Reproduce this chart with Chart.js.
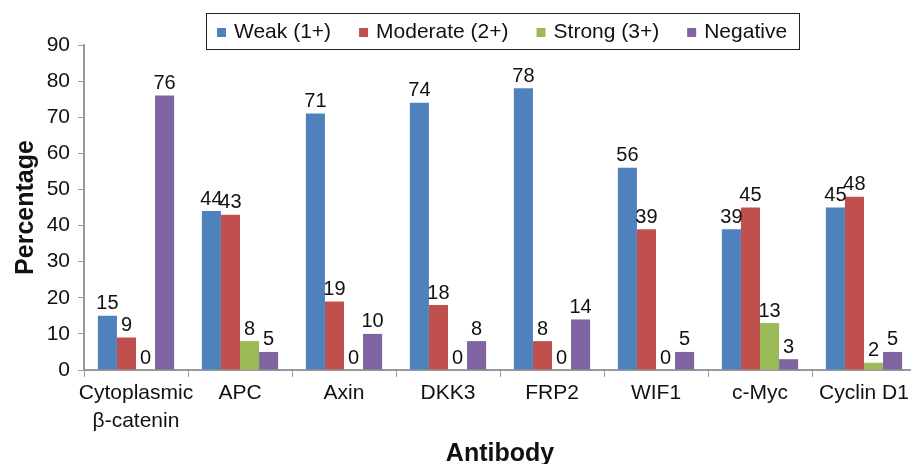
<!DOCTYPE html>
<html lang="en">
<head>
  <meta charset="UTF-8">
  <title>Antibody staining</title>
  <script src="https://cdn.jsdelivr.net/npm/chart.js"></script>
  <style>
    html, body { margin: 0; padding: 0; background: #fff; overflow: hidden; }
    #wrap { width: 911px; height: 464px; overflow: hidden; }
  </style>
</head>
<body>
<div id="wrap"><canvas id="grafik" width="921" height="464"></canvas></div>
<script>
  const categories = [['Cytoplasmic', 'β-catenin'], 'APC', 'Axin', 'DKK3', 'FRP2', 'WIF1', 'c-Myc', 'Cyclin D1'];
  const weak = [15, 44, 71, 74, 78, 56, 39, 45];
  const moderate = [9, 43, 19, 18, 8, 39, 45, 48];
  const strong = [0, 8, 0, 0, 0, 0, 13, 2];
  const negative = [76, 5, 10, 8, 14, 5, 3, 5];
  const yTicks = [0, 10, 20, 30, 40, 50, 60, 70, 80, 90];

  const fontName = "'Liberation Sans', Arial, sans-serif";

  // angka di atas tiap batang
  const labelAtas = {
    id: 'labelAtas',
    afterDatasetsDraw(chart) {
      const ctx = chart.ctx;
      ctx.save();
      ctx.font = '20px ' + fontName;
      ctx.fillStyle = '#111';
      ctx.textAlign = 'center';
      ctx.textBaseline = 'bottom';
      chart.data.datasets.forEach((ds, i) => {
        chart.getDatasetMeta(i).data.forEach((bar, j) => {
          ctx.fillText(ds.data[j], bar.x, bar.y - 2);
        });
      });
      ctx.restore();
    }
  };

  // legend digambar sendiri, dengan kotak di sekelilingnya
  const legendKotak = {
    id: 'legendKotak',
    afterDraw(chart) {
      const ctx = chart.ctx;
      ctx.save();
      ctx.font = '21px ' + fontName;
      ctx.textBaseline = 'middle';
      const left = 206, top = 13, bottom = 49;
      const midY = 32;
      const padKiri = 11, padKanan = 12, jarak = 28, geser = 17;
      let x = left + padKiri;
      chart.data.datasets.forEach((d, i) => {
        const w = ctx.measureText(d.label).width;
        if (i > 0) x += jarak;
        ctx.fillStyle = d.backgroundColor;
        ctx.fillRect(x, midY - 4, 9, 9);
        ctx.fillStyle = '#111';
        ctx.fillText(d.label, x + geser, midY);
        x += geser + w;
      });
      const right = x + padKanan;
      ctx.strokeStyle = '#222';
      ctx.lineWidth = 1;
      ctx.strokeRect(left + 0.5, top + 0.5, Math.round(right - left), bottom - top);
      ctx.restore();
    }
  };

  new Chart(document.getElementById('grafik'), {
    type: 'bar',
    data: {
      labels: categories,
      datasets: [
        { label: 'Weak (1+)', data: weak, backgroundColor: '#4F81BD' },
        { label: 'Moderate (2+)', data: moderate, backgroundColor: '#C0504D' },
        { label: 'Strong (3+)', data: strong, backgroundColor: '#9BBB59' },
        { label: 'Negative', data: negative, backgroundColor: '#8064A2' }
      ]
    },
    options: {
      responsive: false,
      animation: false,
      categoryPercentage: 0.733,
      barPercentage: 1.0,
      layout: { padding: { left: 0, right: 5, top: 45, bottom: 0 } },
      plugins: {
        legend: { display: false },
        tooltip: { enabled: false }
      },
      scales: {
        x: {
          afterFit(axis) { axis.height = 94; },
          grid: { offset: true, drawOnChartArea: false, drawTicks: true, tickLength: 7, color: '#999' },
          border: { color: '#999', width: 2 },
          ticks: { font: { size: 21, family: fontName, lineHeight: 1.3 }, color: '#111', maxRotation: 0, autoSkip: false, padding: 3 },
          title: { display: true, text: 'Antibody', font: { size: 25, weight: 'bold', family: fontName }, color: '#111', padding: { top: 0, bottom: -5 } }
        },
        y: {
          min: 0,
          max: 90,
          afterBuildTicks(axis) { axis.ticks = yTicks.map(v => ({ value: v })); },
          afterFit(axis) { axis.width = 84; },
          grid: { drawOnChartArea: false, drawTicks: true, tickLength: 6, color: '#999' },
          border: { color: '#999', width: 2 },
          ticks: { font: { size: 21, family: fontName }, color: '#111', padding: 8 },
          title: { display: true, text: 'Percentage', font: { size: 25, weight: 'bold', family: fontName }, color: '#111', padding: { top: 11, bottom: 0 } }
        }
      }
    },
    plugins: [labelAtas, legendKotak]
  });
</script>
</body>
</html>
